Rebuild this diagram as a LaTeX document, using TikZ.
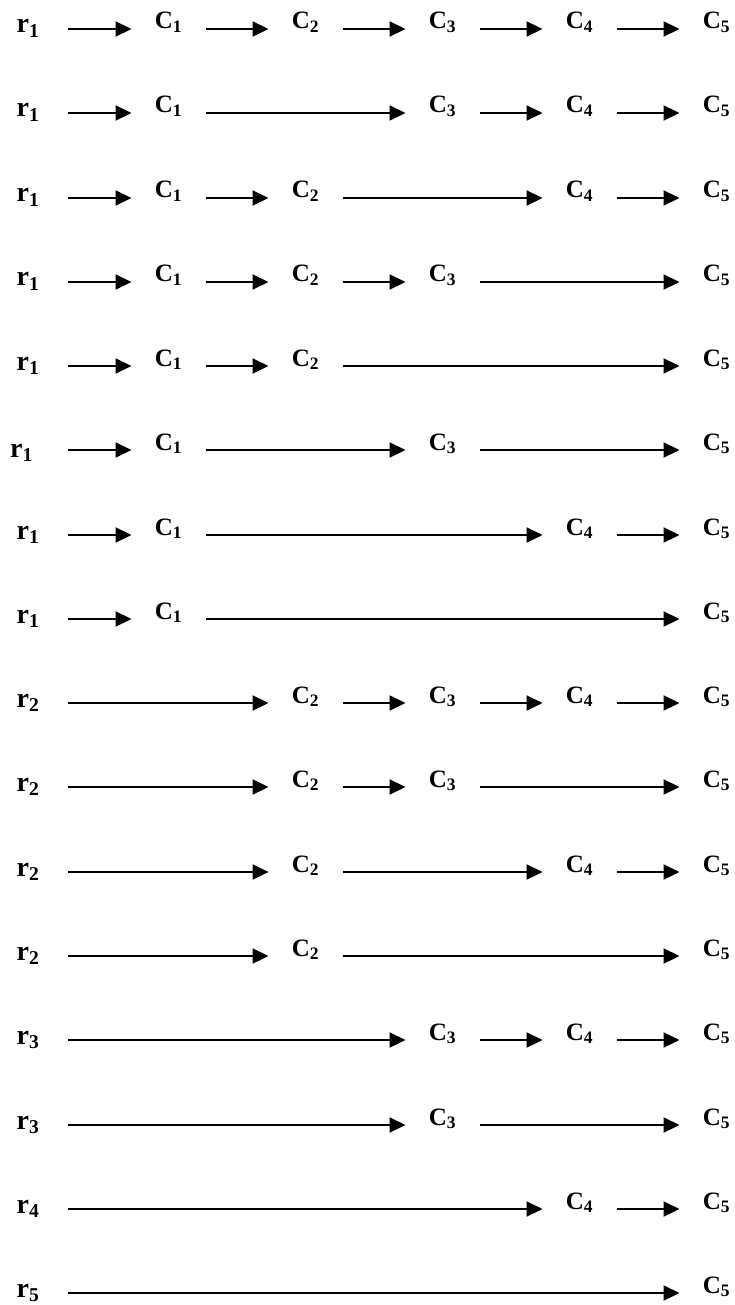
\documentclass[tikz,border=0pt]{standalone}
\usepackage{fontspec}
\setmainfont{Liberation Serif}
\usetikzlibrary{arrows.meta}
\begin{document}
\begin{tikzpicture}[x=1pt,y=-1pt,
  clab/.style={inner sep=0pt, outer sep=0pt, minimum width=74pt, anchor=base,
    font=\fontsize{25}{30}\selectfont\bfseries},
  rlab/.style={inner sep=0pt, outer sep=0pt, minimum width=80pt, anchor=base east,
    font=\fontsize{28}{32}\selectfont\bfseries},
  rlabsix/.style={rlab, minimum width=93pt},
  arr/.style={line width=2.2pt, -{Triangle[length=16pt,width=15pt]}}]
\useasboundingbox (0,0) rectangle (734,1305);
\foreach \r/\cols [count=\i] in {
  1/{1,2,3,4,5}, 1/{1,3,4,5}, 1/{1,2,4,5}, 1/{1,2,3,5},
  1/{1,2,5}, 1/{1,3,5}, 1/{1,4,5}, 1/{1,5},
  2/{2,3,4,5}, 2/{2,3,5}, 2/{2,4,5}, 2/{2,5},
  3/{3,4,5}, 3/{3,5}, 4/{4,5}, 5/{5}} {
  \pgfmathsetmacro\y{round(29+(\i-1)*84.27)}
  \ifnum\i=6
    \node[rlabsix] (r\i) at (68,\y+7) {r\textsubscript{\r}};
  \else
    \node[rlab] (r\i) at (68,\y+4) {r\textsubscript{\r}};
  \fi
  \foreach \c [remember=\c as \p (initially 0)] in \cols {
    \pgfmathsetmacro\x{168.5+(\c-1)*137}
    \node[clab] (c\i-\c) at (\x,\y) {C\textsubscript{\c}};
    \ifnum\p=0
      \draw[arr] (r\i.east |- c\i-\c.base) -- (c\i-\c.base west);
    \else
      \draw[arr] (c\i-\p.base east) -- (c\i-\c.base west);
    \fi
  }
}
\end{tikzpicture}
\end{document}
